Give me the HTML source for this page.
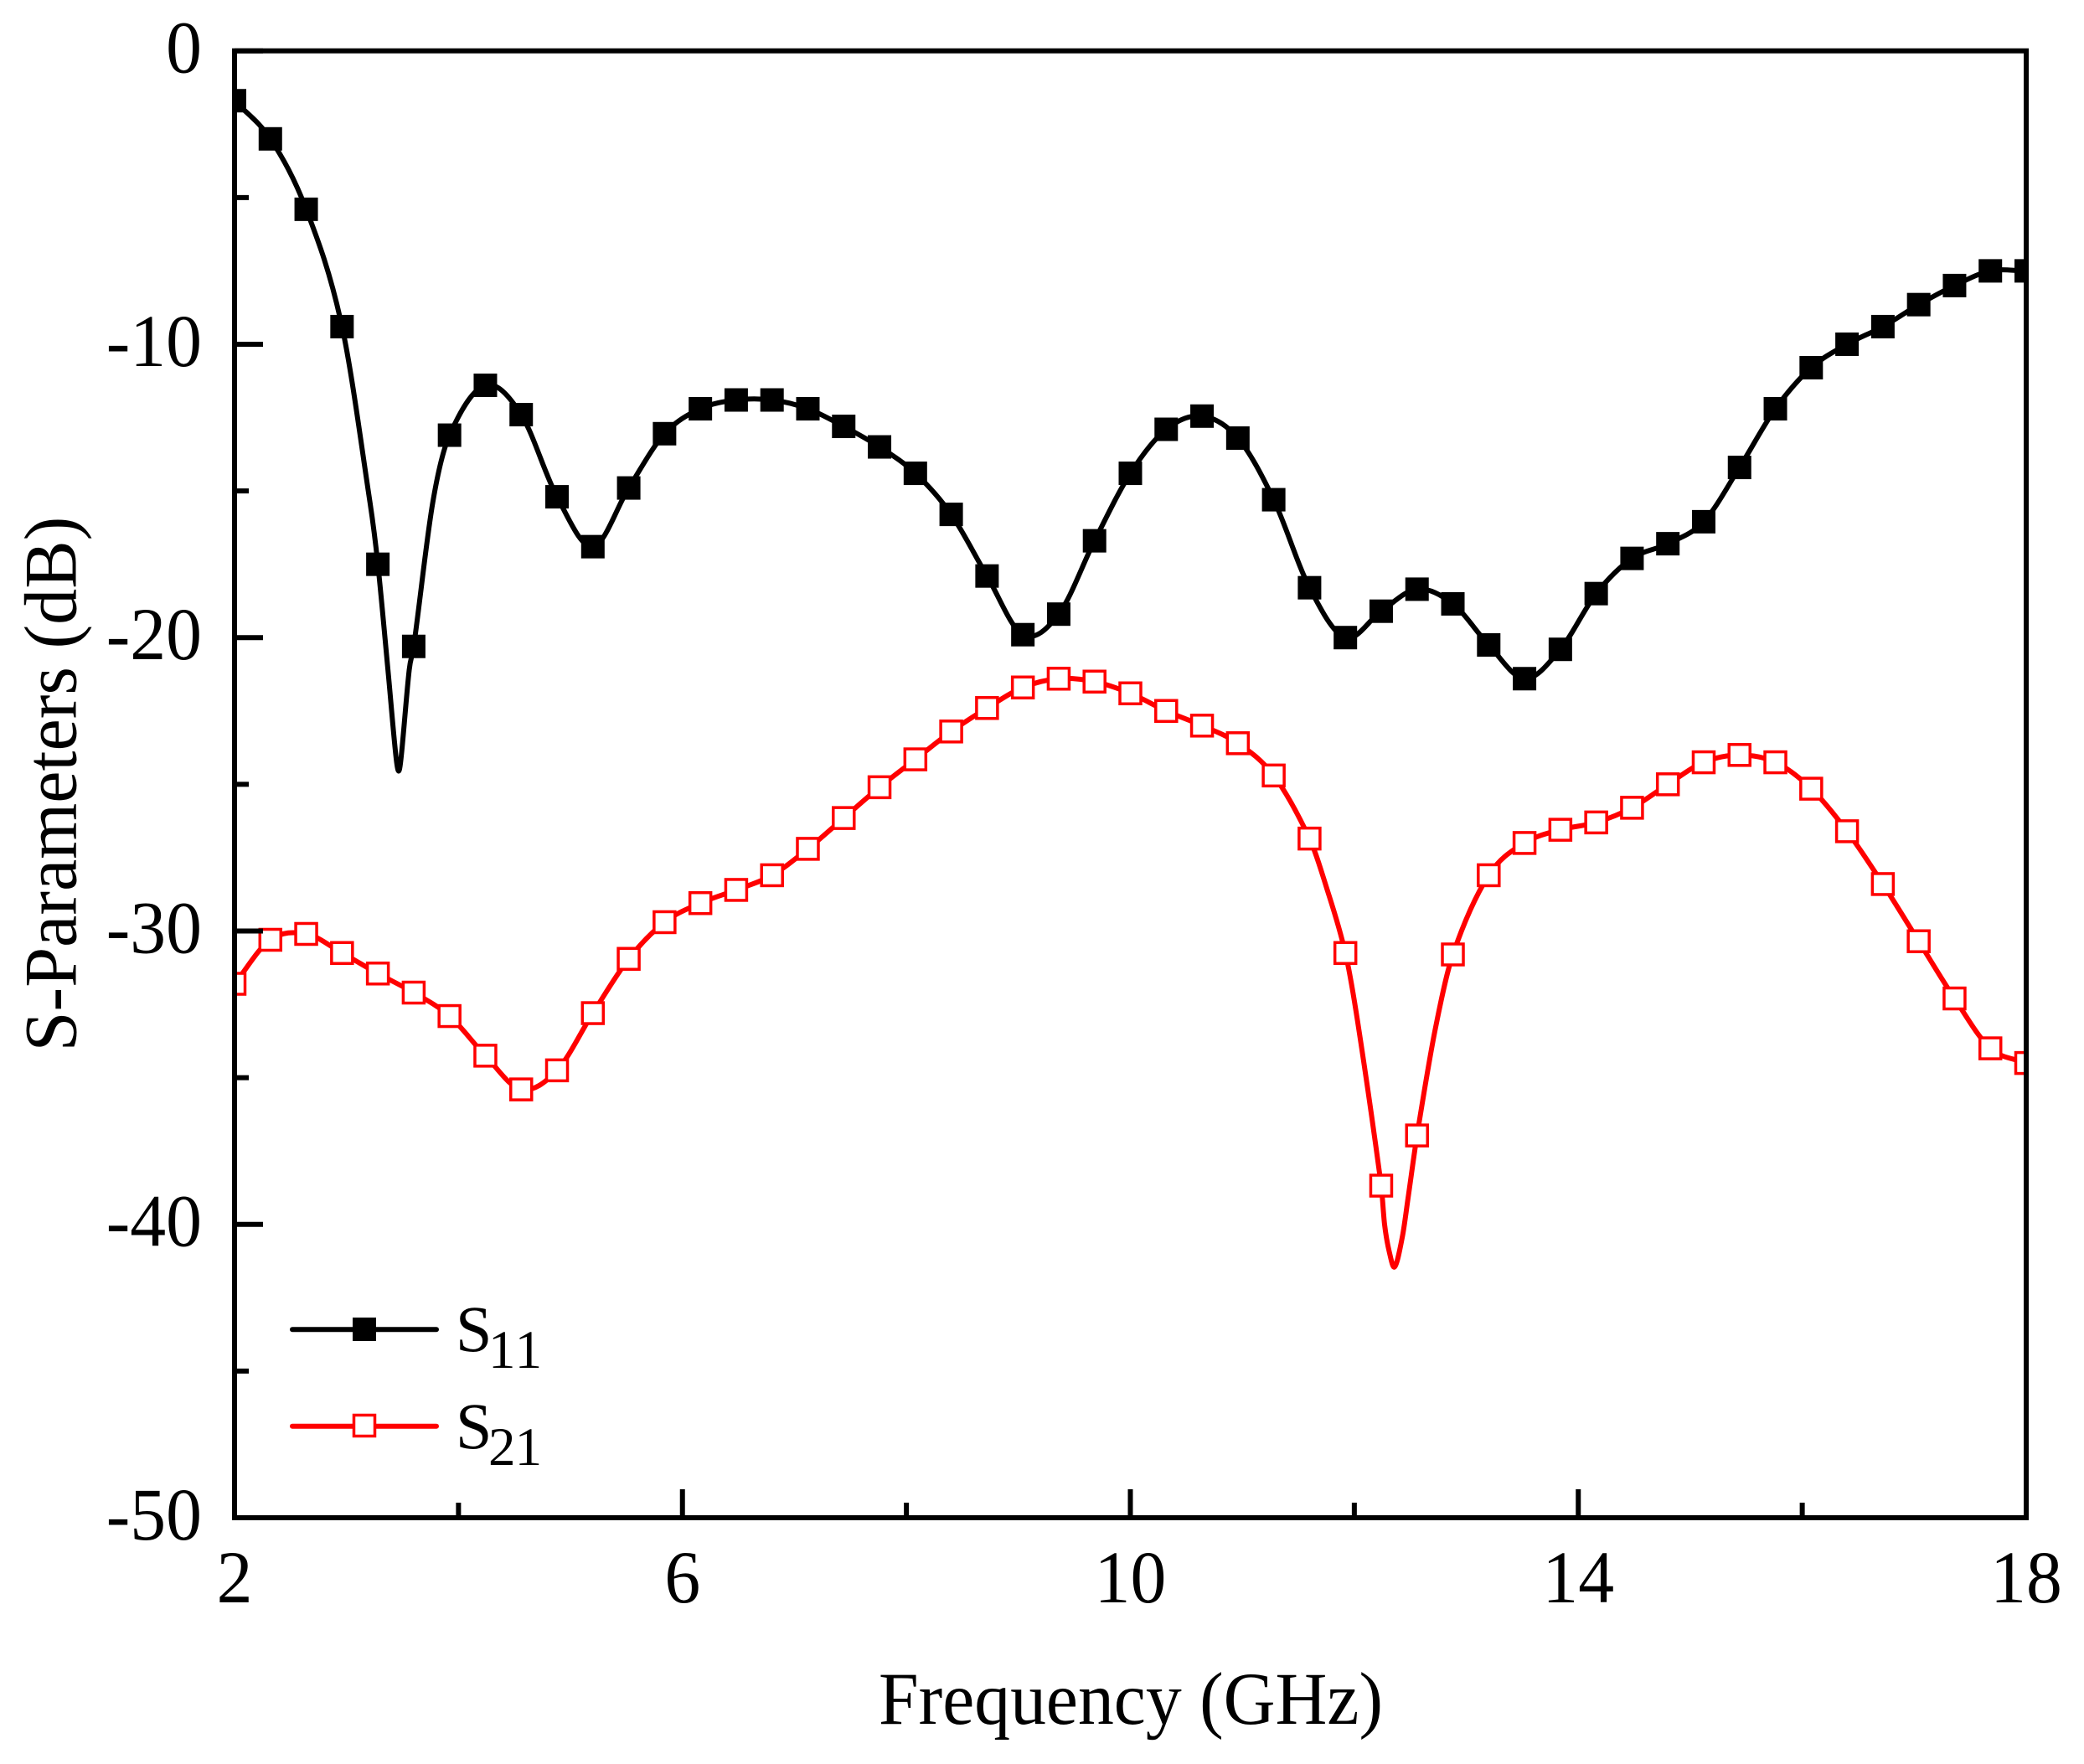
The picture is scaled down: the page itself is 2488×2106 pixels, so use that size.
<!DOCTYPE html>
<html lang="en">
<head>
<meta charset="utf-8">
<title>S-Parameters vs Frequency</title>
<style>
html,body{margin:0;padding:0;background:#fff;}
svg{display:block;}
text{font-family:"Liberation Serif",serif;fill:#000;}
</style>
</head>
<body>
<svg id="chart" xmlns="http://www.w3.org/2000/svg" width="2488" height="2106" viewBox="0 0 2488 2106">
  <defs><clipPath id="plot-clip"><rect x="280" y="60.7" width="2139" height="1751.3"/></clipPath></defs>
  <g id="series" clip-path="url(#plot-clip)"></g>
  <g id="axes"></g>
  <text transform="translate(1350 2058) scale(.963 1)" font-size="89" text-anchor="middle">Frequency (GHz)</text>
  <text transform="translate(90.5 936) rotate(-90) scale(.968 1)" font-size="89" text-anchor="middle">S-Parameters (dB)</text>
  <g>
    <g>
      <line x1="349" y1="1587.3" x2="521" y2="1587.3" stroke="#000" stroke-width="6" stroke-linecap="round"/>
      <rect x="421" y="1573" width="28" height="28" fill="#000"/>
      <text x="544" y="1613" font-size="78">S</text>
      <text x="583" y="1633" font-size="65" letter-spacing="1.5">11</text>
    </g>
    <g>
      <line x1="349" y1="1702.7" x2="521" y2="1702.7" stroke="#f00" stroke-width="6" stroke-linecap="round"/>
      <rect x="422.5" y="1689.5" width="25" height="25" fill="#fff" stroke="#f00" stroke-width="3.5"/>
      <text x="544" y="1729" font-size="78">S</text>
      <text x="583" y="1749" font-size="65" letter-spacing="-0.9">21</text>
    </g>
  </g>
</svg>
<script>
const freqs = [2,2.32,2.64,2.96,3.28,3.6,3.92,4.24,4.56,4.88,5.2,5.52,5.84,6.16,6.48,6.8,7.12,7.44,7.76,8.08,8.4,8.72,9.04,9.36,9.68,10,10.32,10.64,10.96,11.28,11.6,11.92,12.24,12.56,12.88,13.2,13.52,13.84,14.16,14.48,14.8,15.12,15.44,15.76,16.08,16.4,16.72,17.04,17.36,17.68,18];
const s11Values = [-1.7,-3.0,-5.4,-9.4,-17.5,-20.3,-13.1,-11.4,-12.4,-15.2,-16.9,-14.9,-13.05,-12.2,-11.9,-11.9,-12.2,-12.8,-13.5,-14.4,-15.8,-17.9,-19.9,-19.2,-16.7,-14.4,-12.9,-12.45,-13.2,-15.3,-18.3,-20.0,-19.1,-18.35,-18.85,-20.25,-21.4,-20.4,-18.5,-17.3,-16.8,-16.05,-14.2,-12.2,-10.8,-10.0,-9.4,-8.65,-8.0,-7.5,-7.5];
const s21Values = [-31.8,-30.3,-30.1,-30.75,-31.45,-32.1,-32.9,-34.25,-35.4,-34.75,-32.8,-30.95,-29.7,-29.05,-28.6,-28.1,-27.2,-26.15,-25.1,-24.15,-23.2,-22.4,-21.7,-21.4,-21.5,-21.9,-22.5,-23.0,-23.6,-24.7,-26.85,-30.75,-38.68,-36.97,-30.8,-28.1,-27.0,-26.55,-26.3,-25.8,-25.0,-24.25,-24.0,-24.25,-25.15,-26.6,-28.4,-30.35,-32.3,-34.0,-34.5];
// Curve-only samples between markers (the narrow resonance dips)
const s11DipFreqs = [3.21,3.37,3.44,3.466,3.49,3.56,3.77];
const s11DipValues = [-15.4,-21.1,-24.0,-24.55,-24.0,-21.1,-15.4];
const s21DipFreqs = [11.75,12.03,12.27,12.31,12.36,12.43,12.48,12.72];
const s21DipValues = [-28.5,-33.1,-40.0,-40.9,-41.45,-40.4,-39.1,-33.4];
const xTickValues = [2,4,6,8,10,12,14,16,18];
const xTickLabels = ["2","","6","","10","","14","","18"];
const yTickValues = [0,-5,-10,-15,-20,-25,-30,-35,-40,-45,-50];
const yTickLabels = ["0","","-10","","-20","","-30","","-40","","-50"];

const NS = "http://www.w3.org/2000/svg";
const xMin = 2, xMax = 18, yMax = 0, yMin = -50;
const L = 280, R = 2419, T = 60.7, B = 1812;
const xScale = v => L + (v - xMin) / (xMax - xMin) * (R - L);
const yScale = v => T + (yMax - v) / (yMax - yMin) * (B - T);
const axes = document.getElementById("axes");
const series = document.getElementById("series");

function make(tag, attrs, parent) {
  const el = document.createElementNS(NS, tag);
  for (const k in attrs) el.setAttribute(k, attrs[k]);
  parent.appendChild(el);
  return el;
}

// Smooth curve with tangents that respect the uneven sample spacing
function curvePath(xs, ys) {
  const pts = xs.map((x, i) => [xScale(x), yScale(ys[i])]).sort((a, b) => a[0] - b[0]);
  const slope = i => {
    const a = pts[Math.max(i - 1, 0)], b = pts[Math.min(i + 1, pts.length - 1)];
    return (b[1] - a[1]) / (b[0] - a[0]);
  };
  let d = "M" + pts[0][0].toFixed(2) + " " + pts[0][1].toFixed(2);
  for (let i = 0; i < pts.length - 1; i++) {
    const p1 = pts[i], p2 = pts[i + 1], dx = (p2[0] - p1[0]) / 3;
    const c1x = p1[0] + dx, c1y = p1[1] + slope(i) * dx;
    const c2x = p2[0] - dx, c2y = p2[1] - slope(i + 1) * dx;
    d += "C" + c1x.toFixed(2) + " " + c1y.toFixed(2) + " " + c2x.toFixed(2) + " " + c2y.toFixed(2) + " " + p2[0].toFixed(2) + " " + p2[1].toFixed(2);
  }
  return d;
}

// Series S21 first, S11 on top
const s21Line = make("path", {d: curvePath(freqs.concat(s21DipFreqs), s21Values.concat(s21DipValues)), fill: "none", stroke: "#f00", "stroke-width": 6, "stroke-linejoin": "round"}, series);


const s11Line = make("path", {d: curvePath(freqs.concat(s11DipFreqs), s11Values.concat(s11DipValues)), fill: "none", stroke: "#000", "stroke-width": 6, "stroke-linejoin": "round"}, series);



freqs.forEach((f, i) => {
  const px = xScale(f);
  const a = make("rect", {x: px - 12.5, y: yScale(s21Values[i]) - 12.5, width: 25, height: 25, fill: "#fff", stroke: "#f00", "stroke-width": 3.5}, series);
  
  
  const b = make("rect", {x: px - 14, y: yScale(s11Values[i]) - 14, width: 28, height: 28, fill: "#000"}, series);
  
  
});

// Frame
const frame = make("rect", {x: L, y: T, width: R - L, height: B - T, fill: "none", stroke: "#000", "stroke-width": 6}, axes);



// X ticks
xTickValues.forEach((v, i) => {
  const major = xTickLabels[i] !== "";
  const px = xScale(v);
  const t = make("line", {x1: px, x2: px, y1: B, y2: B - (major ? 34 : 18), stroke: "#000", "stroke-width": 6}, axes);
  
  
  if (major) {
    const lab = make("text", {transform: "translate(" + px + " 1913) scale(.963 1)", "font-size": 89, "text-anchor": "middle"}, axes);
    
    
    lab.textContent = xTickLabels[i];
  }
});

// Y ticks
yTickValues.forEach((v, i) => {
  const major = yTickLabels[i] !== "";
  const py = yScale(v);
  const t = make("line", {x1: L, x2: L + (major ? 34 : 17), y1: py, y2: py, stroke: "#000", "stroke-width": 6}, axes);
  
  
  if (major) {
    const lab = make("text", {transform: "translate(241 " + (py + 26) + ") scale(.963 1)", "font-size": 89, "text-anchor": "end"}, axes);
    
    
    lab.textContent = yTickLabels[i];
  }
});
</script>
</body>
</html>
